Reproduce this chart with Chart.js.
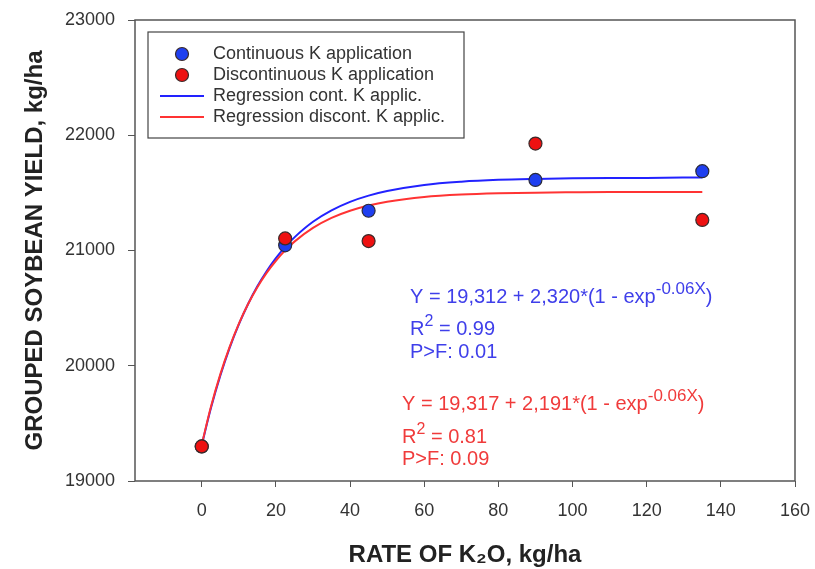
<!DOCTYPE html>
<html><head><meta charset="utf-8">
<script src="https://cdn.jsdelivr.net/npm/chart.js@4"></script>
<style>html,body{margin:0;padding:0;background:#fff;}#wrap{width:815px;height:569px;}</style>
</head><body><div id="wrap"><canvas id="c" width="815" height="569"></canvas></div>
<script>
// ---- data ----
const rates = [0, 22.5, 45, 90, 135];
const contYield = [19300, 21045, 21345, 21612, 21688];
const discYield = [19300, 21105, 21082, 21928, 21265];
const curveX = [0, 2.5, 5, 7.5, 10, 12.5, 15, 17.5, 20, 22.5, 25, 30, 35, 40, 45, 50, 60, 70, 80, 90, 100, 110, 120, 135];
const contCurve = [19312, 19635, 19913, 20153, 20359, 20536, 20689, 20820, 20933, 21031, 21114, 21249, 21348, 21422, 21476, 21516, 21569, 21597, 21613, 21621, 21626, 21629, 21630, 21634];
const discCurve = [19317, 19646, 19925, 20162, 20364, 20536, 20682, 20806, 20911, 21001, 21077, 21196, 21283, 21345, 21390, 21423, 21464, 21485, 21496, 21502, 21505, 21507, 21507, 21508];
const xTicks = [0, 20, 40, 60, 80, 100, 120, 140, 160];
const yTicks = [19000, 20000, 21000, 22000, 23000];
const legendLabels = ['Continuous K application', 'Discontinuous K application', 'Regression cont. K applic.', 'Regression discont. K applic.'];
const xTitle = 'RATE OF K\u2082O, kg/ha';
const yTitle = 'GROUPED SOYBEAN YIELD, kg/ha';
const contEq = ['Y = 19,312 + 2,320*(1 - exp', '-0.06X', ')'];
const discEq = ['Y = 19,317 + 2,191*(1 - exp', '-0.06X', ')'];
const contStats = ['0.99', '0.01'];
const discStats = ['0.81', '0.09'];

const BLUE = '#1f3ff0', RED = '#ee1111';
const BLUE_LINE = '#2222ff', RED_LINE = '#ff3333';
const BLUE_TXT = '#3f3fea', RED_TXT = '#f03b3b';
const FONT = "'Liberation Sans', Arial, sans-serif";

const pts = (xs, ys) => xs.map((x, i) => ({x: x, y: ys[i]}));

function rich(ctx, x, y, parts, color) {
  ctx.fillStyle = color;
  ctx.textBaseline = 'alphabetic';
  ctx.textAlign = 'left';
  let cx = x;
  parts.forEach(p => {
    ctx.font = p.s + 'px ' + FONT;
    ctx.fillText(p.t, cx, y + (p.dy || 0));
    cx += ctx.measureText(p.t).width;
  });
}

const extras = {
  id: 'extras',
  afterDraw(chart) {
    const ctx = chart.ctx, a = chart.chartArea;
    ctx.save();
    // frame
    ctx.strokeStyle = '#555';
    ctx.lineWidth = 1.5;
    ctx.strokeRect(a.left, a.top, a.right - a.left, a.bottom - a.top);
    // legend
    const lx = 148, ly = 32, lw = 316, lh = 106;
    ctx.fillStyle = '#fff';
    ctx.fillRect(lx, ly, lw, lh);
    ctx.strokeStyle = '#444';
    ctx.lineWidth = 1.2;
    ctx.strokeRect(lx, ly, lw, lh);
    const rows = [54, 75, 96, 117];
    const cols = [BLUE, RED, BLUE_LINE, RED_LINE];
    rows.forEach((ry, i) => {
      if (i < 2) {
        ctx.beginPath();
        ctx.arc(182, ry, 6.5, 0, Math.PI * 2);
        ctx.fillStyle = cols[i];
        ctx.fill();
        ctx.strokeStyle = '#3a2a2a';
        ctx.lineWidth = 1.2;
        ctx.stroke();
      } else {
        ctx.beginPath();
        ctx.moveTo(160, ry); ctx.lineTo(204, ry);
        ctx.strokeStyle = cols[i];
        ctx.lineWidth = 2;
        ctx.stroke();
      }
      ctx.fillStyle = '#333';
      ctx.font = '18px ' + FONT;
      ctx.textBaseline = 'middle';
      ctx.textAlign = 'left';
      ctx.fillText(legendLabels[i], 213, ry);
    });
    // annotations
    rich(ctx, 410, 303, [{t: contEq[0], s: 20}, {t: contEq[1], s: 17, dy: -9}, {t: contEq[2], s: 20}], BLUE_TXT);
    rich(ctx, 410, 335, [{t: 'R', s: 20}, {t: '2', s: 16, dy: -9}, {t: ' = ' + contStats[0], s: 20}], BLUE_TXT);
    rich(ctx, 410, 358, [{t: 'P>F: ' + contStats[1], s: 20}], BLUE_TXT);
    rich(ctx, 402, 410, [{t: discEq[0], s: 20}, {t: discEq[1], s: 17, dy: -9}, {t: discEq[2], s: 20}], RED_TXT);
    rich(ctx, 402, 443, [{t: 'R', s: 20}, {t: '2', s: 16, dy: -9}, {t: ' = ' + discStats[0], s: 20}], RED_TXT);
    rich(ctx, 402, 465, [{t: 'P>F: ' + discStats[1], s: 20}], RED_TXT);
    ctx.restore();
  }
};

new Chart(document.getElementById('c'), {
  type: 'scatter',
  data: {
    datasets: [
      {label: legendLabels[1], data: pts(rates, discYield), backgroundColor: RED, borderColor: '#3a2a2a', borderWidth: 1.2, pointRadius: 6.5, showLine: false},
      {label: legendLabels[0], data: pts(rates, contYield), backgroundColor: BLUE, borderColor: '#2a2a3a', borderWidth: 1.2, pointRadius: 6.5, showLine: false},
      {label: legendLabels[3], data: pts(curveX, discCurve), borderColor: RED_LINE, borderWidth: 2, pointRadius: 0, showLine: true, cubicInterpolationMode: 'monotone'},
      {label: legendLabels[2], data: pts(curveX, contCurve), borderColor: BLUE_LINE, borderWidth: 2, pointRadius: 0, showLine: true, cubicInterpolationMode: 'monotone'}
    ]
  },
  options: {
    responsive: false,
    animation: false,
    devicePixelRatio: 1,
    layout: {padding: {top: 20, right: 20, left: 0, bottom: 0}},
    plugins: {legend: {display: false}, tooltip: {enabled: false}},
    scales: {
      x: {
        type: 'linear', min: -18, max: 160,
        afterBuildTicks: s => { s.ticks = xTicks.map(v => ({value: v})); },
        afterFit: s => { s.height = 88; s.paddingLeft = 0; s.paddingRight = 0; },
        grid: {drawOnChartArea: false, drawTicks: true, tickLength: 6, color: '#555'},
        border: {display: false},
        ticks: {padding: 13, color: '#333', font: {family: FONT, size: 18}, callback: v => String(v), maxRotation: 0},
        title: {display: true, text: xTitle, color: '#222', font: {family: FONT, size: 24, weight: 'bold', lineHeight: 1.1}, padding: {top: 0, bottom: 0}}
      },
      y: {
        type: 'linear', min: 19000, max: 23000,
        afterBuildTicks: s => { s.ticks = yTicks.map(v => ({value: v})); },
        afterFit: s => { s.width = 135; s.paddingTop = 0; s.paddingBottom = 0; },
        grid: {drawOnChartArea: false, drawTicks: true, tickLength: 7, color: '#555'},
        border: {display: false},
        ticks: {padding: 13, color: '#333', font: {family: FONT, size: 18}, callback: v => String(v)},
        title: {display: true, text: yTitle, color: '#222', font: {family: FONT, size: 24, weight: 'bold', lineHeight: 1.1}, padding: {top: 22, bottom: 0}}
      }
    }
  },
  plugins: [extras]
});
</script>
</body></html>
